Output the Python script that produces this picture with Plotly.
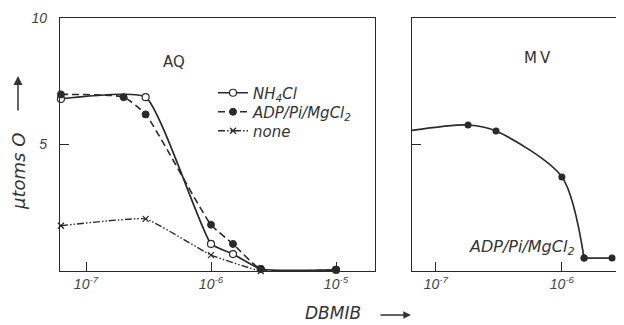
import plotly.graph_objects as go

# ---------------- data ----------------
# AQ panel
x_nh4 = [6.3e-8, 3.0e-7, 1.0e-6, 1.5e-6, 2.5e-6, 1.0e-5]
y_nh4 = [6.8, 6.87, 1.07, 0.67, 0.08, 0.05]

x_adp = [6.3e-8, 2.0e-7, 3.0e-7, 1.0e-6, 1.5e-6, 2.5e-6, 1.0e-5]
y_adp = [6.98, 6.87, 6.19, 1.83, 1.07, 0.08, 0.05]

x_none = [6.3e-8, 3.0e-7, 1.0e-6, 2.5e-6, 1.0e-5]
y_none = [1.79, 2.06, 0.63, 0.0, 0.03]

# MV panel
x_mv = [6.3e-8, 1.8e-7, 3.0e-7, 1.0e-6, 1.5e-6, 2.5e-6]
y_mv = [5.55, 5.77, 5.53, 3.72, 0.51, 0.51]

x_tickvals_left = [1e-7, 1e-6, 1e-5]
x_ticktext_left = ["<i>10<sup>-7</sup></i>", "<i>10<sup>-6</sup></i>", "<i>10<sup>-5</sup></i>"]
x_tickvals_right = [1e-7, 1e-6]
x_ticktext_right = ["<i>10<sup>-7</sup></i>", "<i>10<sup>-6</sup></i>"]
y_tickvals = [5, 10]
y_ticktext = ["<i>5</i>", "<i>10</i>"]

INK = "#2a2a2a"
TXT = "#333333"
FONT = "Liberation Sans"
LFONT = "DejaVu Sans"

# page body has an 8px margin: figure is sized so it ends at the window edge
OFF = 8
W, H = 624 - OFF, 325 - OFF
PLOT_TOP, PLOT_BOT = 18, 271          # screen px of the plot area


def fx(p):
    return (p - OFF) / W


def fy(p):
    return (PLOT_BOT - p) / (PLOT_BOT - PLOT_TOP)


fig = go.Figure()

fig.add_trace(go.Scatter(
    x=x_nh4, y=y_nh4, mode="lines+markers", name="<i>NH<sub>4</sub>Cl</i>", legend="legend",
    line=dict(color=INK, width=1.7, shape="spline", smoothing=0.45),
    marker=dict(symbol="circle", size=7, color="white", line=dict(color=INK, width=1.2)),
    cliponaxis=False, xaxis="x", yaxis="y"))

fig.add_trace(go.Scatter(
    x=x_adp, y=y_adp, mode="lines+markers", name="<i>ADP/Pi/MgCl<sub>2</sub></i>", legend="legend2",
    line=dict(color=INK, width=1.6, dash="7px,4px", shape="spline", smoothing=0.5),
    marker=dict(symbol="circle", size=7, color=INK, line=dict(color=INK, width=1)),
    cliponaxis=False, xaxis="x", yaxis="y"))

fig.add_trace(go.Scatter(
    x=x_none, y=y_none, mode="lines+markers", name="<i>none</i>", legend="legend3",
    line=dict(color=INK, width=1.4, dash="7px,2px,1.5px,2px,1.5px,2px", shape="spline", smoothing=0.3),
    marker=dict(symbol="x-thin-open", size=6, color=INK, line=dict(color=INK, width=1.2)),
    cliponaxis=False, xaxis="x", yaxis="y"))

# MV panel: smooth curve through the first five points, straight plateau at the end
fig.add_trace(go.Scatter(
    x=x_mv[:5], y=y_mv[:5], mode="lines+markers", showlegend=False,
    line=dict(color=INK, width=1.7, shape="spline", smoothing=0.8),
    marker=dict(symbol="circle", size=7, color=INK),
    cliponaxis=False, xaxis="x2", yaxis="y2"))
fig.add_trace(go.Scatter(
    x=x_mv[4:], y=y_mv[4:], mode="lines+markers", showlegend=False,
    line=dict(color=INK, width=1.7),
    marker=dict(symbol="circle", size=7, color=INK),
    cliponaxis=False, xaxis="x2", yaxis="y2"))

axis_common = dict(showgrid=False, zeroline=False, showline=True, linecolor=INK, linewidth=1.2,
                   ticks="inside", ticklen=9, tickwidth=1, tickcolor=INK,
                   tickfont=dict(family=FONT, size=14, color="#444"))

legend_common = dict(xanchor="left", yanchor="middle", x=fx(213),
                     font=dict(family=LFONT, size=15, color=TXT),
                     bgcolor="rgba(0,0,0,0)", itemwidth=30)

fig.update_layout(
    width=W, height=H,
    margin=dict(l=0, r=0, t=PLOT_TOP - OFF, b=H - (PLOT_BOT - OFF)),
    paper_bgcolor="white", plot_bgcolor="white",
    xaxis=dict(domain=[fx(60), fx(375)], type="log", range=[-7.208, -4.688],
               tickvals=x_tickvals_left, ticktext=x_ticktext_left, mirror=True,
               anchor="y", **axis_common),
    yaxis=dict(domain=[0, 1], range=[0, 10], tickvals=y_tickvals, ticktext=y_ticktext,
               mirror=True, anchor="x", ticklabelstandoff=9, **axis_common),
    xaxis2=dict(domain=[fx(412), 1.0], type="log", range=[-7.19, -5.507],
                tickvals=x_tickvals_right, ticktext=x_ticktext_right, mirror=True,
                anchor="y2", **axis_common),
    yaxis2=dict(domain=[0, 1], range=[0, 10], tickvals=[5], showticklabels=False,
                anchor="x2", **axis_common),
    showlegend=True,
    legend=dict(y=fy(93), **legend_common),
    legend2=dict(y=fy(112), **legend_common),
    legend3=dict(y=fy(131), **legend_common),
)

ann_common = dict(xref="paper", yref="paper", xanchor="center", yanchor="middle", showarrow=False)

for text, px, py in [("AQ", 174, 62), ("M\u2009V", 537, 58)]:
    fig.add_annotation(text=text, x=fx(px), y=fy(py),
                       font=dict(family=LFONT, size=15, color=TXT), **ann_common)

fig.add_annotation(text="<i>ADP/Pi/MgCl<sub>2</sub></i>", x=fx(522), y=fy(247),
                   font=dict(family=LFONT, size=16, color=TXT), **ann_common)

# y-axis title with upward arrow
fig.add_annotation(text="<i>μtoms O</i>", x=fx(18), y=fy(172), textangle=-90,
                   font=dict(family=LFONT, size=18, color=TXT), **ann_common)
fig.add_annotation(text="", xref="paper", yref="paper", axref="pixel", ayref="pixel",
                   x=fx(18), y=fy(76), ax=0, ay=36, showarrow=True,
                   arrowhead=2, arrowsize=1.2, arrowwidth=1.5, arrowcolor=TXT)

# x-axis title with right arrow
fig.add_annotation(text="<i>DBMIB</i>", x=fx(333), y=fy(313),
                   font=dict(family=LFONT, size=17, color=TXT), **ann_common)
fig.add_annotation(text="", xref="paper", yref="paper", axref="pixel", ayref="pixel",
                   x=fx(411), y=fy(315), ax=-32, ay=0, showarrow=True,
                   arrowhead=2, arrowsize=1.1, arrowwidth=1.4, arrowcolor=TXT)

fig.write_html("out.html")
